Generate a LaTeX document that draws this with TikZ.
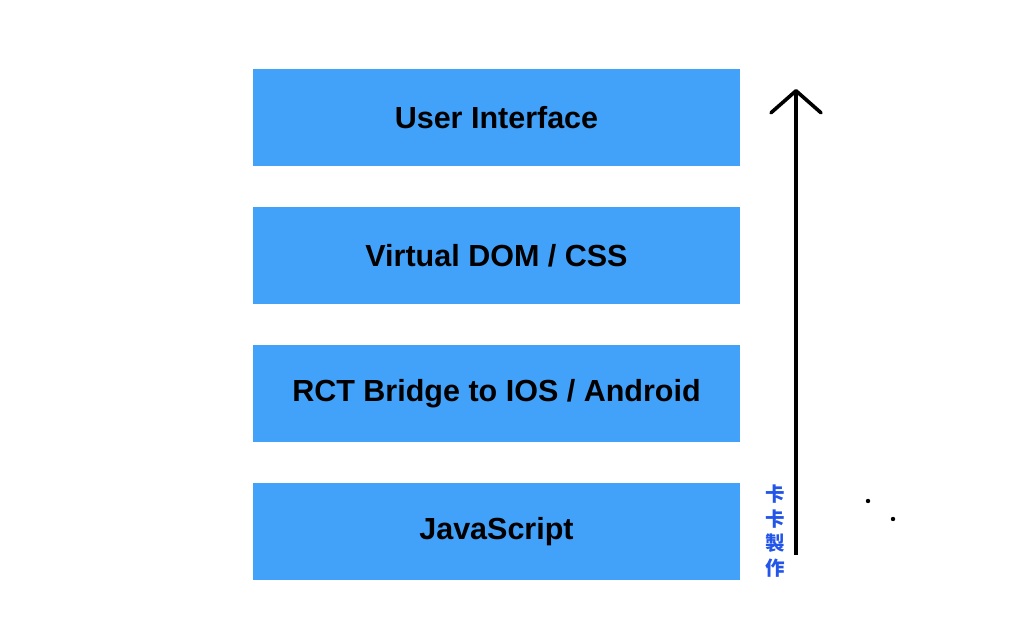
\documentclass[tikz,border=0pt]{standalone}
\usepackage{fontspec}
\setmainfont{Liberation Sans}
\newfontfamily\cjkfont{Noto Sans CJK TC}
\usetikzlibrary{positioning, arrows.meta}
\definecolor{layerblue}{HTML}{42A1F8}
\definecolor{signblue}{HTML}{2356E8}

\begin{document}
\begin{tikzpicture}[x=1pt, y=1pt, node distance=41pt,
    layer/.style={fill=layerblue, minimum width=487pt, minimum height=97pt,
                  inner sep=0pt, outer sep=0pt, font=\fontsize{30.5}{36}\selectfont\bfseries}]
      \useasboundingbox (0, 0) rectangle (1024, 636);
      \node[layer] (ui) at (496.5, 518.5) {User Interface};
      \node[layer, below=of ui] (vdom) {Virtual DOM / CSS};
      \node[layer, below=of vdom] (bridge) {RCT Bridge to IOS / Android};
      \node[layer, below=of bridge] (js) {JavaScript};
      % flow upward
      \coordinate (tail) at (796, 81);
      \coordinate (head) at (796, 547);
      \draw[line width=3.6pt, -{Straight Barb[length=22pt, width=50pt, line width=3.6pt, round]}]
            (tail) -- (head);
      \node[text=signblue, align=center, inner sep=0pt,
            font=\cjkfont\fontsize{19.5}{24.5}\selectfont\bfseries] (sign) at (775, 105)
            {卡\\卡\\製\\作};
      \fill (868, 135) circle (2.2) (893, 117) circle (2.2);
    \end{tikzpicture}
\end{document}
